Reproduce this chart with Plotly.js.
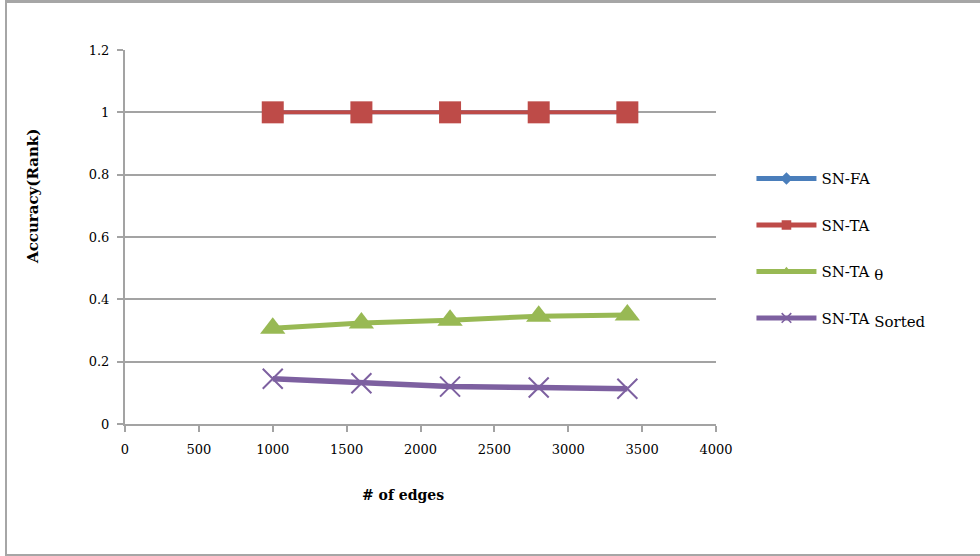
<!DOCTYPE html>
<html>
<head>
<meta charset="utf-8">
<script src="https://cdn.plot.ly/plotly-3.0.1.min.js"></script>
<style>
  html, body { margin: 0; padding: 0; background: #fff; }
  #wrap { position: relative; width: 980px; height: 556px; }
  #chart { position: absolute; left: 0; top: 0; width: 980px; height: 556px; }
  #frame {
    position: absolute; left: 5px; top: 0; width: 980px; height: 556px;
    border-top: 3px solid #a6a6a6; border-left: 2px solid #a6a6a6; border-bottom: 2px solid #a6a6a6;
    box-sizing: border-box; pointer-events: none;
  }
</style>
</head>
<body>
<div id="wrap">
  <div id="chart"></div>
  <div id="frame"></div>
</div>
<script>
// Number of edges on the x axis
const edges = [1000, 1600, 2200, 2800, 3400];

// Accuracy (rank) for each method
const snFA = [1, 1, 1, 1, 1];
const snTA = [1, 1, 1, 1, 1];
const snTATheta = [0.307, 0.324, 0.333, 0.346, 0.350];
const snTASorted = [0.145, 0.131, 0.120, 0.117, 0.113];

const seriesNames = [
  'SN-FA',
  'SN-TA',
  'SN-TA <sub><span style="font-size:15px">θ</span></sub>',
  'SN-TA <sub><span style="font-size:15px">Sorted</span></sub>'
];

const xTicks = [0, 500, 1000, 1500, 2000, 2500, 3000, 3500, 4000];
const yTicks = [0, 0.2, 0.4, 0.6, 0.8, 1, 1.2];
const yTickText = ['0', '0.2', '0.4', '0.6', '0.8', '1', '1.2'];

const xTitle = '# of edges';
const yTitle = 'Accuracy(Rank)';

const serif = 'DejaVu Serif, serif';
const gridGray = '#a3a3a3';

const traces = [
  {
    x: edges, y: snFA, name: seriesNames[0], legendgroup: 'a',
    mode: 'lines+markers',
    line: { color: '#4a7ebb', width: 4 },
    marker: { symbol: 'diamond', size: 12, color: '#4a7ebb' }
  },
  {
    x: edges, y: snTA, name: seriesNames[1], legendgroup: 'b',
    mode: 'lines+markers',
    line: { color: '#be4b48', width: 4 },
    marker: { symbol: 'square', size: 22, color: '#be4b48' }
  },
  {
    x: edges, y: snTATheta, name: seriesNames[2], legendgroup: 'c',
    mode: 'lines+markers',
    line: { color: '#98b954', width: 5 },
    marker: { symbol: 'triangle-up', size: 22, color: '#98b954' }
  },
  {
    x: edges, y: snTASorted, name: seriesNames[3], legendgroup: 'd',
    mode: 'lines+markers',
    line: { color: '#7d60a0', width: 5.5 },
    marker: { symbol: 'x-thin-open', size: 20, line: { color: '#7d60a0', width: 2 } }
  }
];

const layout = {
  width: 980,
  height: 556,
  margin: { l: 125, r: 264, t: 50, b: 132 },
  paper_bgcolor: '#ffffff',
  plot_bgcolor: '#ffffff',
  font: { family: serif, size: 13, color: '#000000' },
  showlegend: true,
  legend: {
    x: 1.06, y: 0.70, xanchor: 'left', yanchor: 'top',
    tracegroupgap: 24,
    font: { family: serif, size: 15, color: '#000000' },
    bgcolor: 'rgba(0,0,0,0)',
    itemwidth: 60,
    itemsizing: 'constant'
  },
  xaxis: {
    range: [0, 4000],
    tickvals: xTicks,
    ticktext: xTicks.map(String),
    showgrid: false,
    zeroline: false,
    showline: true,
    linecolor: gridGray,
    linewidth: 2,
    ticks: 'outside',
    ticklen: 6,
    tickwidth: 2,
    tickcolor: gridGray,
    ticklabelstandoff: 6,
    tickfont: { family: serif, size: 13, color: '#000' }
  },
  yaxis: {
    range: [0, 1.2],
    tickvals: yTicks,
    ticktext: yTickText,
    showgrid: true,
    gridcolor: gridGray,
    gridwidth: 2,
    zeroline: false,
    showline: true,
    linecolor: gridGray,
    linewidth: 2,
    ticks: 'outside',
    ticklen: 6,
    tickwidth: 2,
    tickcolor: gridGray,
    ticklabelstandoff: 5,
    tickfont: { family: serif, size: 13, color: '#000' }
  },
  annotations: [
    {
      text: '<b>' + xTitle + '</b>', xref: 'paper', yref: 'paper',
      x: 0.4704, y: -0.19, xanchor: 'center', yanchor: 'middle',
      showarrow: false, font: { family: serif, size: 14, color: '#000' }
    },
    {
      text: '<b>' + yTitle + '</b>', xref: 'paper', yref: 'paper',
      x: -0.1557, y: 0.6096, xanchor: 'center', yanchor: 'middle', textangle: -90,
      showarrow: false, font: { family: serif, size: 15, color: '#000' }
    }
  ]
};

Plotly.newPlot('chart', traces, layout, { displayModeBar: false, staticPlot: true }).then(function (gd) {
  // Stretch the legend line samples to the item width and centre smaller markers on them
  gd.querySelectorAll('.legend .legendlines path').forEach(function (p) {
    p.setAttribute('d', 'M5,0h60');
  });
  gd.querySelectorAll('.legend .legendpoints path').forEach(function (p) {
    p.setAttribute('transform', 'translate(35,0) scale(0.8)');
  });
});
</script>
</body>
</html>
